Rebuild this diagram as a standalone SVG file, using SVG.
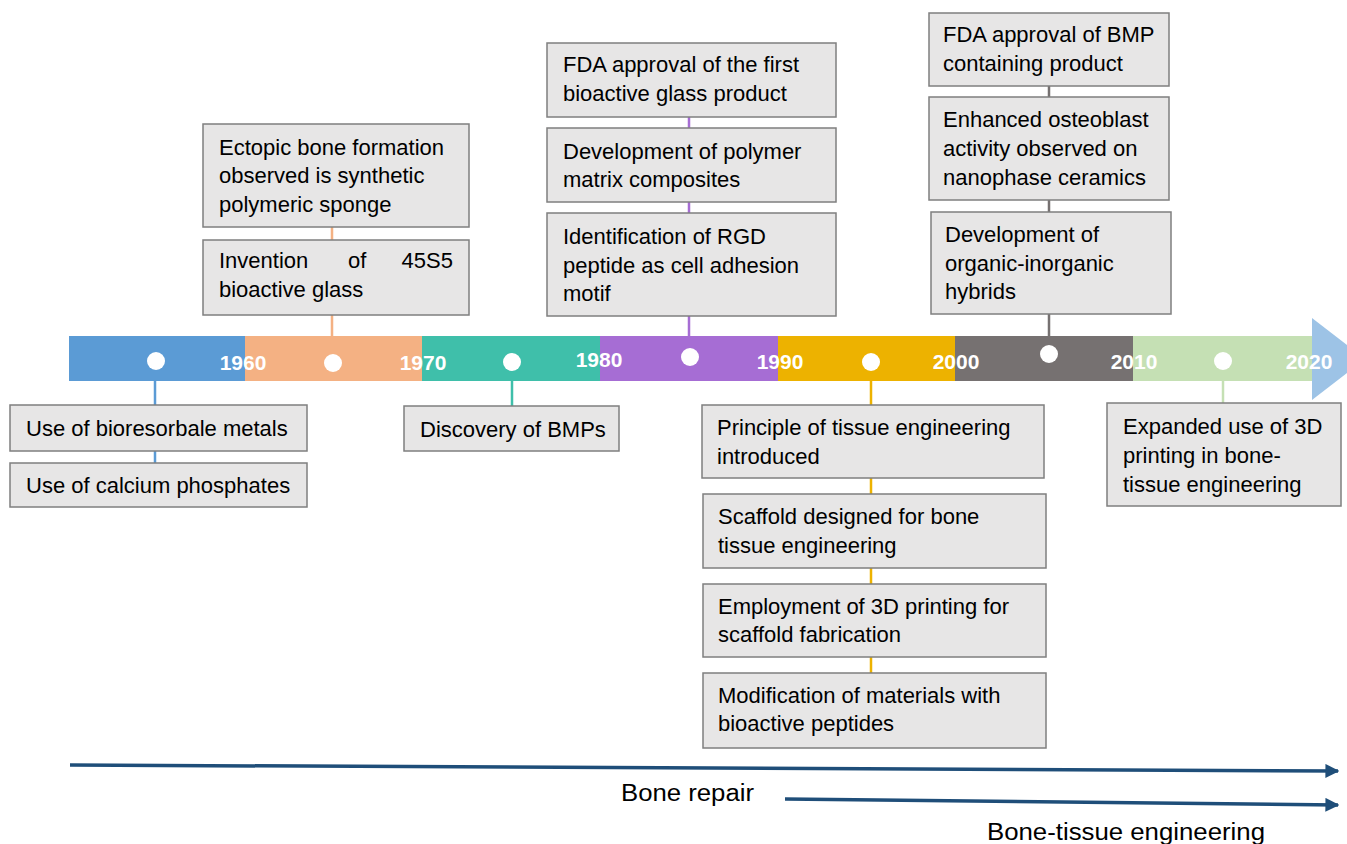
<svg xmlns="http://www.w3.org/2000/svg" width="1347" height="844" viewBox="0 0 1347 844">
<defs>
<style>
.box{fill:#E7E6E6;stroke:#7F7F7F;stroke-width:1.5}
.t{font-family:"Liberation Sans",Arial,sans-serif;font-size:22px;fill:#000}
.yr{font-family:"Liberation Sans",Arial,sans-serif;font-size:21px;font-weight:bold;fill:#fff;text-anchor:middle}
.dot{fill:#fff}
.c{stroke-width:2.5;fill:none}
.lab{font-family:"Liberation Sans",Arial,sans-serif;font-size:23px;fill:#000}
</style>
<marker id="ah" viewBox="0 0 10 10" refX="9" refY="5" markerWidth="4" markerHeight="4" orient="auto" markerUnits="strokeWidth">
<path d="M0,0 L10,5 L0,10 z" fill="#1F4E79"/>
</marker>
</defs>
<rect width="1347" height="844" fill="#fff"/>

<g id="timeline">
<rect x="69" y="336" width="176" height="45" fill="#5B9BD5"/>
<rect x="245" y="336" width="177" height="45" fill="#F4B183"/>
<rect x="422" y="336" width="178" height="45" fill="#3FBFAA"/>
<rect x="600" y="336" width="178" height="45" fill="#A66DD4"/>
<rect x="778" y="336" width="177" height="45" fill="#EDB200"/>
<rect x="955" y="336" width="178" height="45" fill="#767171"/>
<rect x="1133" y="336" width="179" height="45" fill="#C5E0B4"/>
<polygon points="1312,318 1365,359 1312,400" fill="#9DC3E6"/>
<text class="yr" x="243" y="370">1960</text>
<text class="yr" x="423" y="370">1970</text>
<text class="yr" x="599" y="367">1980</text>
<text class="yr" x="780" y="369">1990</text>
<text class="yr" x="956" y="369">2000</text>
<text class="yr" x="1134" y="369">2010</text>
<text class="yr" x="1309" y="369">2020</text>
<circle class="dot" cx="156" cy="361" r="9"/>
<circle class="dot" cx="333" cy="363" r="9"/>
<circle class="dot" cx="512" cy="362" r="9"/>
<circle class="dot" cx="690" cy="357" r="9"/>
<circle class="dot" cx="871" cy="362" r="9"/>
<circle class="dot" cx="1049" cy="354" r="9"/>
<circle class="dot" cx="1223" cy="361" r="9"/>
</g>

<g id="connectors">
<path class="c" stroke="#5B9BD5" d="M155,381 V405 M155,451 V463"/>
<path class="c" stroke="#F4B183" d="M332,227 V240 M332,315 V336"/>
<path class="c" stroke="#3FBFAA" d="M512,381 V406"/>
<path class="c" stroke="#A66DD4" d="M689,117 V128 M689,202 V213 M689,316 V336"/>
<path class="c" stroke="#EDB200" d="M871,381 V405 M871,478 V494 M871,568 V584 M871,657 V673"/>
<path class="c" stroke="#767171" d="M1049,86 V97 M1049,200 V212 M1049,314 V336"/>
<path class="c" stroke="#C5E0B4" d="M1223,381 V403"/>
<line x1="70" y1="765" x2="1338" y2="771" stroke="#1F4E79" stroke-width="3.5" marker-end="url(#ah)"/>
<line x1="785" y1="799" x2="1338" y2="805" stroke="#1F4E79" stroke-width="3.5" marker-end="url(#ah)"/>
</g>

<g id="n-bioresorbable">
<rect class="box" x="10" y="405" width="297" height="46"/>
<text class="t" x="26" y="436">Use of bioresorbale metals</text>
</g>
<g id="n-calcium">
<rect class="box" x="10" y="463" width="297" height="44"/>
<text class="t" x="26" y="493">Use of calcium phosphates</text>
</g>
<g id="n-ectopic">
<rect class="box" x="203" y="124" width="266" height="103"/>
<text class="t" x="219" y="155">Ectopic bone formation</text>
<text class="t" x="219" y="183">observed is synthetic</text>
<text class="t" x="219" y="212">polymeric sponge</text>
</g>
<g id="n-45s5">
<rect class="box" x="203" y="240" width="266" height="75"/>
<text class="t" x="219" y="268">Invention</text>
<text class="t" x="348" y="268">of</text>
<text class="t" x="453" y="268" text-anchor="end">45S5</text>
<text class="t" x="219" y="297">bioactive glass</text>
</g>
<g id="n-bmps">
<rect class="box" x="404" y="406" width="215" height="45"/>
<text class="t" x="420" y="437">Discovery of BMPs</text>
</g>
<g id="n-fda-glass">
<rect class="box" x="547" y="43" width="289" height="74"/>
<text class="t" x="563" y="72">FDA approval of the first</text>
<text class="t" x="563" y="101">bioactive glass product</text>
</g>
<g id="n-polymer">
<rect class="box" x="547" y="128" width="289" height="74"/>
<text class="t" x="563" y="159">Development of polymer</text>
<text class="t" x="563" y="187">matrix composites</text>
</g>
<g id="n-rgd">
<rect class="box" x="547" y="213" width="289" height="103"/>
<text class="t" x="563" y="244">Identification of RGD</text>
<text class="t" x="563" y="273">peptide as cell adhesion</text>
<text class="t" x="563" y="301">motif</text>
</g>
<g id="n-principle">
<rect class="box" x="702" y="405" width="342" height="73"/>
<text class="t" x="717" y="435">Principle of tissue engineering</text>
<text class="t" x="717" y="464">introduced</text>
</g>
<g id="n-scaffold">
<rect class="box" x="703" y="494" width="343" height="74"/>
<text class="t" x="718" y="524">Scaffold designed for bone</text>
<text class="t" x="718" y="553">tissue engineering</text>
</g>
<g id="n-3dprint">
<rect class="box" x="703" y="584" width="343" height="73"/>
<text class="t" x="718" y="614">Employment of 3D printing for</text>
<text class="t" x="718" y="642">scaffold fabrication</text>
</g>
<g id="n-peptides">
<rect class="box" x="703" y="673" width="343" height="75"/>
<text class="t" x="718" y="703">Modification of materials with</text>
<text class="t" x="718" y="731">bioactive peptides</text>
</g>
<g id="n-fda-bmp">
<rect class="box" x="929" y="13" width="240" height="73"/>
<text class="t" x="943" y="42">FDA approval of BMP</text>
<text class="t" x="943" y="71">containing product</text>
</g>
<g id="n-osteoblast">
<rect class="box" x="929" y="97" width="240" height="103"/>
<text class="t" x="943" y="127">Enhanced osteoblast</text>
<text class="t" x="943" y="156">activity observed on</text>
<text class="t" x="943" y="185">nanophase ceramics</text>
</g>
<g id="n-hybrids">
<rect class="box" x="931" y="212" width="240" height="102"/>
<text class="t" x="945" y="242">Development of</text>
<text class="t" x="945" y="271">organic-inorganic</text>
<text class="t" x="945" y="299">hybrids</text>
</g>
<g id="n-expanded">
<rect class="box" x="1107" y="403" width="234" height="103"/>
<text class="t" x="1123" y="434">Expanded use of 3D</text>
<text class="t" x="1123" y="463">printing in bone-</text>
<text class="t" x="1123" y="492">tissue engineering</text>
</g>

<g id="labels">
<text class="lab" x="621" y="801" textLength="133" lengthAdjust="spacingAndGlyphs">Bone repair</text>
<text class="lab" x="987" y="840" textLength="278" lengthAdjust="spacingAndGlyphs">Bone-tissue engineering</text>
</g>
</svg>
